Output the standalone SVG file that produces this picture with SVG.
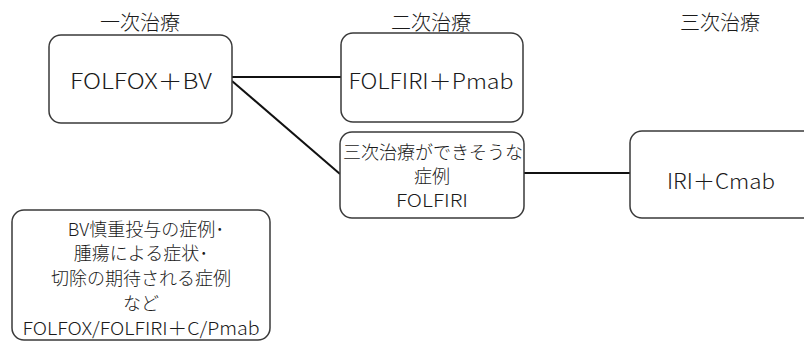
<svg xmlns="http://www.w3.org/2000/svg" width="804" height="343" viewBox="0 0 804 343">
  <style>
    .box { fill: #ffffff; stroke: #3a3a3a; stroke-width: 1.5; }
    .conn { stroke: #111111; stroke-width: 2; fill: none; }
    text { font-family: "Noto Sans CJK JP", "Noto Sans", sans-serif; font-weight: 300; fill: #1a1a1a; text-anchor: middle; dominant-baseline: central; }
    .hdr { font-size: 20px; }
    .main { font-size: 21px; }
    .sub { font-size: 18px; }
  </style>
  <rect width="804" height="343" fill="#ffffff"/>
  <g id="headers">
    <text class="hdr" x="140" y="21">一次治療</text>
    <text class="hdr" x="431" y="21">二次治療</text>
    <text class="hdr" x="720" y="21">三次治療</text>
  </g>
  <g id="connectors">
    <line class="conn" x1="232" y1="77" x2="341" y2="77"/>
    <line class="conn" x1="232" y1="81" x2="340" y2="174"/>
    <line class="conn" x1="524" y1="173" x2="630" y2="173"/>
  </g>
  <g id="node-folfox-bv">
    <rect class="box" x="49" y="35" width="183" height="88" rx="12"/>
    <text class="main" x="141" y="80" textLength="142" lengthAdjust="spacingAndGlyphs">FOLFOX＋BV</text>
  </g>
  <g id="node-folfiri-pmab">
    <rect class="box" x="341" y="33" width="182" height="89" rx="12"/>
    <text class="main" x="431" y="80" textLength="165" lengthAdjust="spacingAndGlyphs">FOLFIRI＋Pmab</text>
  </g>
  <g id="node-folfiri">
    <rect class="box" x="340" y="132" width="184" height="86" rx="12"/>
    <text class="sub" x="433" y="151">三次治療ができそうな</text>
    <text class="sub" x="432" y="175">症例</text>
    <text class="sub" x="432" y="199" textLength="72" lengthAdjust="spacingAndGlyphs">FOLFIRI</text>
  </g>
  <g id="node-iri-cmab">
    <rect class="box" x="630" y="131" width="190" height="87" rx="12"/>
    <text class="main" x="721" y="180" textLength="108" lengthAdjust="spacingAndGlyphs">IRI＋Cmab</text>
  </g>
  <g id="node-others">
    <rect class="box" x="12" y="210" width="258" height="130" rx="12"/>
    <text class="sub" x="146" y="228">BV慎重投与の症例･</text>
    <text class="sub" x="141" y="252">腫瘍による症状･</text>
    <text class="sub" x="141" y="277">切除の期待される症例</text>
    <text class="sub" x="141" y="302">など</text>
    <text class="sub" x="141" y="327" textLength="237" lengthAdjust="spacingAndGlyphs">FOLFOX/FOLFIRI＋C/Pmab</text>
  </g>
</svg>
